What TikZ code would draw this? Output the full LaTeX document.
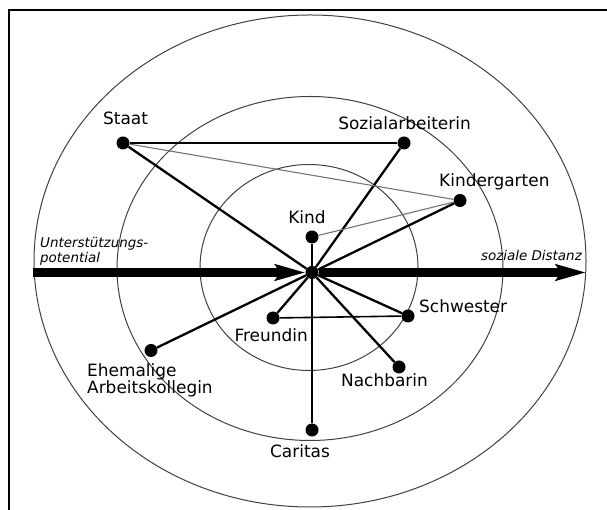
\documentclass[tikz,border=0pt]{standalone}
\usepackage{fontspec}
\setmainfont{DejaVu Sans}
\usetikzlibrary{arrows.meta}

\begin{document}
\begin{tikzpicture}[
    x=1bp, y=1bp,
    >=Stealth,
    font=\fontsize{17}{18}\selectfont,
    dot/.style={circle, fill=black, inner sep=0pt, minimum size=13bp},
    tie/.style={line width=2.3bp},
    weak/.style={line width=1.1bp, black!55},
    ring/.style={line width=1bp, black!75},
    lbl/.style={anchor=base, inner sep=0pt},
    axislbl/.style={font=\fontsize{13.5}{15}\selectfont\itshape, inner sep=0pt},
]
\useasboundingbox (0,0) rectangle (607,510);

% ---- frame ----
\draw[line width=2bp] (8.5,0) -- (8.5,500) -- (607,500);

% ---- distance rings ----
\draw[ring] (310,249)   ellipse [x radius=276, y radius=246];
\draw[ring] (310,241.5) ellipse [x radius=193, y radius=172];
\draw[ring] (309,242.5) ellipse [x radius=109, y radius=103];

% ---- persons ----
\node[dot] (hub)    at (312,237.5) {};
\node[dot] (staat)  at (123,367)   {};
\node[dot] (sozial) at (404,367)   {};
\node[dot] (kiga)   at (460,309.5) {};
\node[dot] (kind)   at (312,273)   {};
\node[dot] (schw)   at (408,194)   {};
\node[dot] (freund) at (273,192)   {};
\node[dot] (nachb)  at (399,143)   {};
\node[dot] (carit)  at (312,80)    {};
\node[dot] (kolleg) at (151,159.5) {};

\node[lbl] (staat-l)  at (125.5,385) {Staat};
\node[lbl] (sozial-l) at (404.5,380) {Sozialarbeiterin};
\node[lbl, anchor=base west] (kiga-l) at (439,323) {Kindergarten};
\node[lbl] (kind-l)   at (307,286)   {Kind};
\node[lbl, anchor=base west] (schw-l) at (419,197) {Schwester};
\node[lbl, anchor=base east] (freund-l) at (308,168) {Freundin};
\node[lbl] (nachb-l)  at (384.5,123) {Nachbarin};
\node[lbl] (carit-l)  at (300,52)    {Caritas};
\node[lbl, anchor=base west, align=left] (kolleg-l) at (87,116)
  {Ehemalige\\Arbeitskollegin};

% ---- axis ----
\coordinate (west) at (33,237.5);
\coordinate (east) at (586,237.5);
\draw[line width=9bp, -{Stealth[length=30bp, width=16bp, inset=5bp]}]
  (west) -- (hub.west);
\draw[line width=9bp, -{Stealth[length=30bp, width=16bp, inset=5bp]}]
  (hub.east) -- (east);

\node[axislbl, anchor=west, align=left] (potential) at (40,259)
  {Unterstützungs-\\potential};
\node[axislbl, anchor=base east] (distanz) at (582,249) {soziale Distanz};

% ---- ties to the child's mother ----
\foreach \p in {staat, sozial, kiga, kind, schw, freund, nachb, carit, kolleg}
  \draw[tie] (hub) -- (\p);

% ---- ties among the others ----
\draw[line width=2bp] (staat) -- (sozial);
\draw[line width=1.6bp] (freund) -- (schw);
\draw[weak] (staat) -- (kiga);
\draw[weak] (kind) -- (kiga);

\end{tikzpicture}
\end{document}
